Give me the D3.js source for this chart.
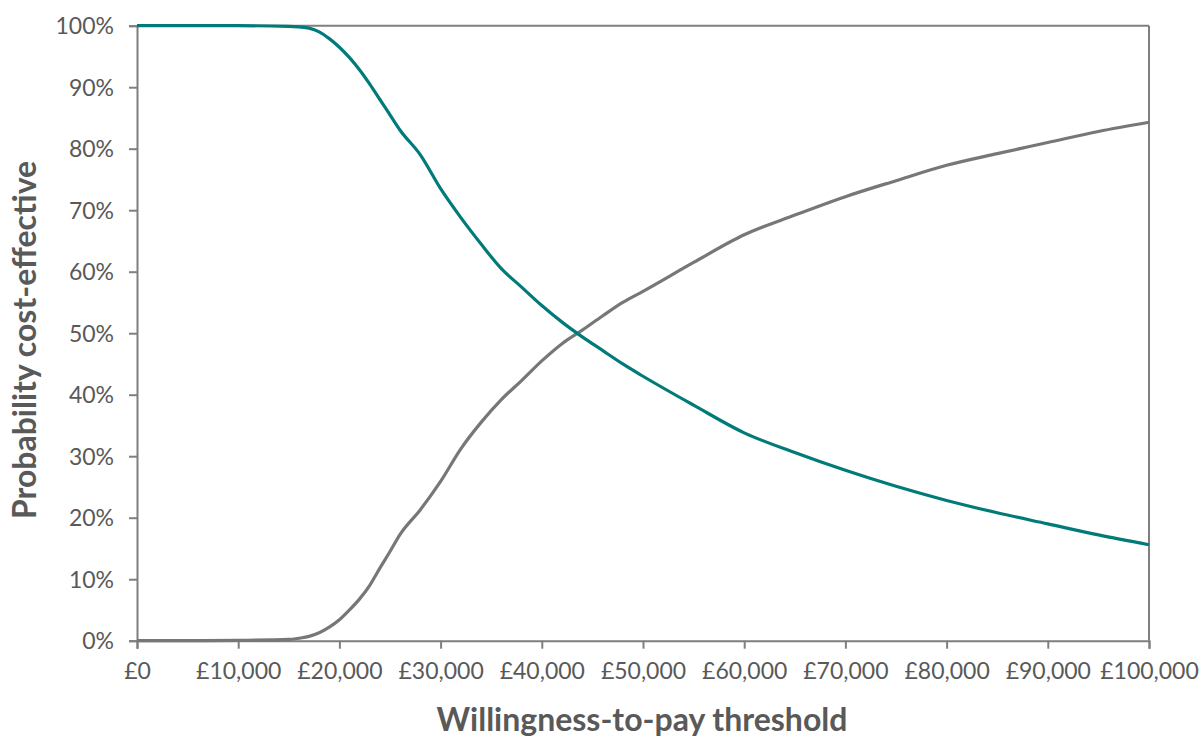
<!DOCTYPE html>
<html>
<head>
<meta charset="utf-8">
<script src="https://cdn.jsdelivr.net/npm/d3@7"></script>
<style>
  html, body { margin: 0; padding: 0; background: #fff; }
  svg { display: block; }
</style>
</head>
<body>
<svg id="chart" width="1204" height="738"></svg>
<script>
// WTP thresholds (£ thousands)
const wtp = [0, 5, 10, 15, 16, 17, 18, 19, 20, 21, 22, 23, 24, 25, 26, 28, 30, 32, 34, 36, 38, 40, 42, 44, 46, 48, 50, 55, 60, 65, 70, 75, 80, 85, 90, 95, 100];
// Probability cost-effective (%) - teal series
const tealSeries = [100, 100, 100, 99.9, 99.8, 99.6, 99.0, 97.9, 96.5, 94.8, 92.8, 90.5, 88.0, 85.5, 83.0, 79.0, 73.5, 68.8, 64.5, 60.5, 57.5, 54.5, 51.8, 49.4, 47.2, 45.0, 43.0, 38.3, 33.8, 30.6, 27.7, 25.1, 22.8, 20.8, 19.0, 17.2, 15.6];
// Probability cost-effective (%) - grey series
const greySeries = [0, 0, 0.05, 0.2, 0.4, 0.7, 1.3, 2.2, 3.4, 5.0, 6.8, 9.0, 11.8, 14.5, 17.3, 21.3, 25.9, 31.2, 35.5, 39.2, 42.3, 45.5, 48.3, 50.5, 52.8, 55.0, 56.8, 61.5, 66.0, 69.2, 72.2, 74.8, 77.3, 79.2, 81.0, 82.8, 84.3];
const xTicks = [0, 10000, 20000, 30000, 40000, 50000, 60000, 70000, 80000, 90000, 100000];
const yTicks = [0, 10, 20, 30, 40, 50, 60, 70, 80, 90, 100];

const svg = d3.select("#chart");
const m = { left: 137, right: 1149, top: 25.7, bottom: 640.7 };
const x = d3.scaleLinear().domain([0, 100000]).range([m.left, m.right]);
const y = d3.scaleLinear().domain([0, 100]).range([m.bottom, m.top]);

const axisColor = "#7f7f7f";
const textColor = "#595959";
const font = "Lato, 'Open Sans', sans-serif";

// plot border (top and right)
svg.append("line").attr("x1", m.left).attr("x2", m.right).attr("y1", m.top).attr("y2", m.top)
  .attr("stroke", axisColor).attr("stroke-width", 2);
svg.append("line").attr("x1", m.right).attr("x2", m.right).attr("y1", m.top).attr("y2", m.bottom)
  .attr("stroke", axisColor).attr("stroke-width", 2);

// axes
const fmtGBP = d => "£" + d3.format(",")(d);
const xAxis = svg.append("g").attr("transform", `translate(0,${m.bottom})`)
  .call(d3.axisBottom(x).tickValues(xTicks).tickFormat(fmtGBP).tickSize(8).tickPadding(14));
const yAxis = svg.append("g").attr("transform", `translate(${m.left},0)`)
  .call(d3.axisLeft(y).tickValues(yTicks).tickFormat(d => d + "%").tickSize(8).tickPadding(15));

[xAxis, yAxis].forEach(g => {
  g.select(".domain").attr("stroke", axisColor).attr("stroke-width", 2);
  g.selectAll(".tick line").attr("stroke", axisColor).attr("stroke-width", 2);
  g.selectAll(".tick text").attr("fill", textColor).style("font-family", font).style("font-size", "23px");
});
yAxis.selectAll(".tick text").attr("dy", "0.35em");

// lines
const data = wtp.map((w, i) => ({ w: w * 1000, teal: tealSeries[i], grey: greySeries[i] }));
const lineGen = key => d3.line().x(d => x(d.w)).y(d => y(d[key])).curve(d3.curveMonotoneX);

svg.append("path").datum(data).attr("d", lineGen("grey"))
  .attr("fill", "none").attr("stroke", "#777777").attr("stroke-width", 3.2);
svg.append("path").datum(data).attr("d", lineGen("teal"))
  .attr("fill", "none").attr("stroke", "#007b79").attr("stroke-width", 3.2);

// axis titles
svg.append("text").attr("x", 642).attr("y", 731)
  .attr("text-anchor", "middle").attr("fill", textColor)
  .style("font-family", font).style("font-weight", "bold").style("font-size", "32px")
  .text("Willingness-to-pay threshold");
svg.append("text").attr("transform", `translate(36,340) rotate(-90)`)
  .attr("text-anchor", "middle").attr("fill", textColor)
  .style("font-family", font).style("font-weight", "bold").style("font-size", "32px")
  .text("Probability cost-effective");
</script>
</body>
</html>
